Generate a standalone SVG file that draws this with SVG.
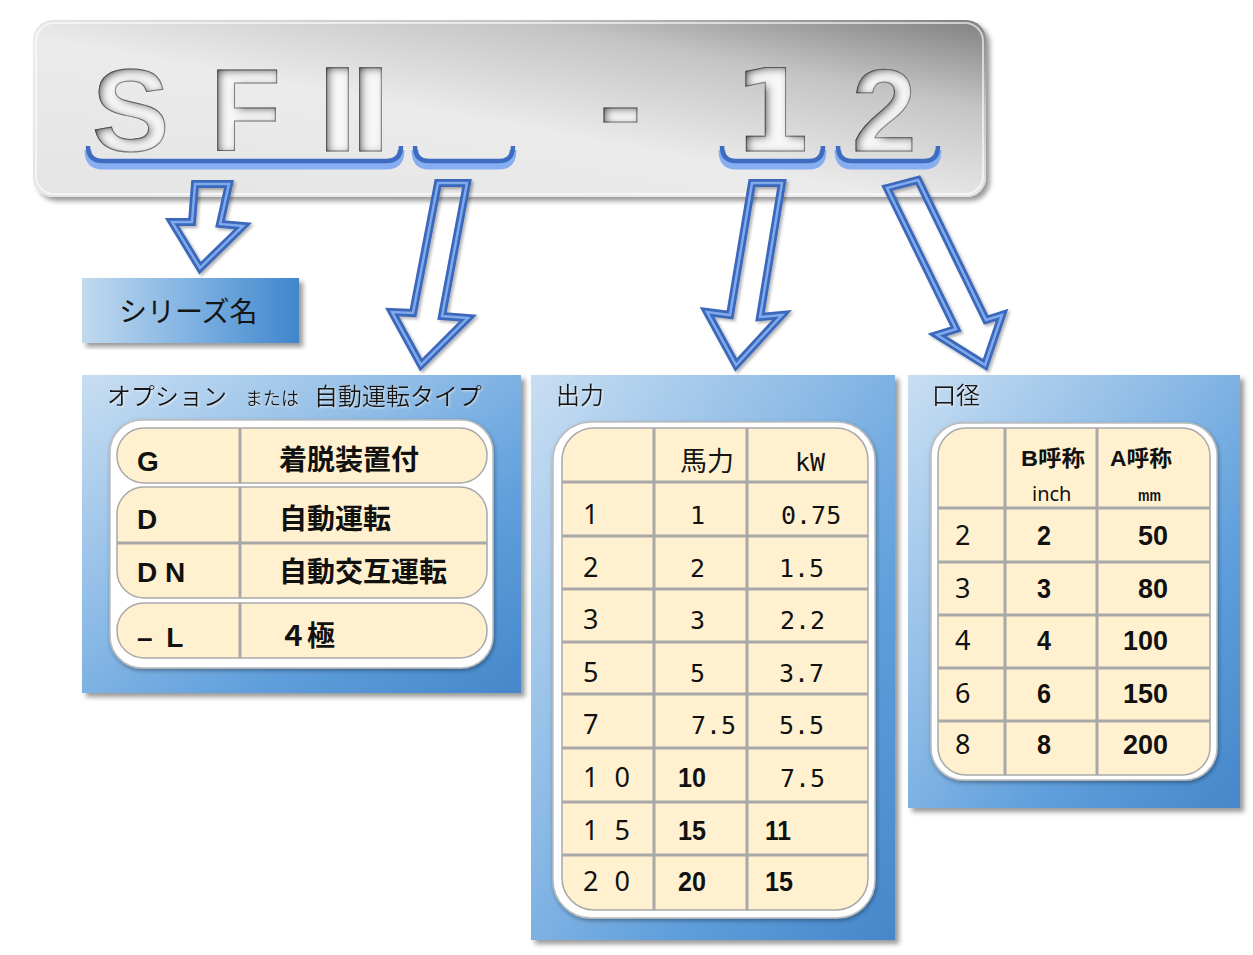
<svg xmlns="http://www.w3.org/2000/svg" width="1253" height="955" viewBox="0 0 1253 955">
<defs>
  <linearGradient id="tb" x1="0" y1="1" x2="1" y2="0">
    <stop offset="0" stop-color="#e4e4e4"/>
    <stop offset="0.45" stop-color="#ebebeb"/>
    <stop offset="0.75" stop-color="#c4c4c4"/>
    <stop offset="1" stop-color="#808080"/>
  </linearGradient>
  <linearGradient id="pg" x1="0" y1="0" x2="1" y2="1">
    <stop offset="0" stop-color="#c8def2"/>
    <stop offset="0.4" stop-color="#8dbbe6"/>
    <stop offset="0.7" stop-color="#5e9edc"/>
    <stop offset="1" stop-color="#4587c9"/>
  </linearGradient>
  <linearGradient id="sg" x1="0" y1="0" x2="1" y2="0">
    <stop offset="0" stop-color="#c2daef"/>
    <stop offset="0.5" stop-color="#7fb2e2"/>
    <stop offset="1" stop-color="#3f86cc"/>
  </linearGradient>
  <filter id="sh" x="-5%" y="-5%" width="115%" height="115%">
    <feDropShadow dx="4" dy="4" stdDeviation="2.5" flood-color="#000" flood-opacity="0.4"/>
  </filter>
  <filter id="fsh" x="-5%" y="-5%" width="110%" height="110%">
    <feDropShadow dx="1" dy="2" stdDeviation="2" flood-color="#000" flood-opacity="0.35"/>
  </filter>
  <filter id="ash" x="-20%" y="-20%" width="140%" height="140%">
    <feDropShadow dx="2" dy="2" stdDeviation="1.5" flood-color="#000" flood-opacity="0.3"/>
  </filter>
  <filter id="emb" x="-10%" y="-10%" width="120%" height="120%">
    <feGaussianBlur in="SourceAlpha" stdDeviation="4" result="b"/>
    <feOffset in="b" dx="3" dy="2" result="bo"/>
    <feComposite in="SourceAlpha" in2="bo" operator="out" result="edge"/>
    <feFlood flood-color="#202020" flood-opacity="1"/>
    <feComposite in2="edge" operator="in" result="shadow"/>
    <feMerge><feMergeNode in="SourceGraphic"/><feMergeNode in="shadow"/></feMerge>
  </filter>
  <filter id="tsh" x="-5%" y="-20%" width="110%" height="140%">
    <feDropShadow dx="1" dy="1" stdDeviation="1" flood-color="#ffffff" flood-opacity="0.6"/>
  </filter>
</defs>
<style>
  .big { font-family: "Liberation Sans", Arial, sans-serif; font-size: 116px; font-weight: bold; fill: #f8f8f8; stroke: #8a8a8a; stroke-width: 1; }
  .brU { fill: none; stroke: #86aef0; stroke-width: 7; stroke-linecap: butt; }
  .brT { fill: none; stroke: #3d6cc1; stroke-width: 4.5; stroke-linecap: butt; }
  .arO { fill: none; stroke: #3a67ba; stroke-width: 8; stroke-linejoin: miter; }
  .arI { fill: none; stroke: #80aaee; stroke-width: 2.5; stroke-linejoin: miter; }
  .panel { fill: url(#pg); filter: url(#sh); }
  .frame { fill: #ffffff; stroke: #bdbdbd; stroke-width: 1.5; filter: url(#fsh); }
  .cream { fill: #fff1cf; stroke: #a9a9a9; stroke-width: 1.5; }
  .grid { stroke: #a8a8a8; stroke-width: 3; }
  .ttl { font-family: "Noto Sans CJK JP", sans-serif; font-size: 24px; fill: #151515; }
  .jb { font-family: "Noto Sans CJK JP", sans-serif; font-size: 28px; font-weight: bold; fill: #111; }
  .lb { font-family: "Liberation Sans", Arial, sans-serif; font-size: 28px; font-weight: bold; fill: #111; }
  .num { font-family: "Noto Sans", "Liberation Sans", sans-serif; font-size: 27px; fill: #111; }
  .mono { font-family: "DejaVu Sans Mono", "Liberation Mono", monospace; font-size: 25px; fill: #111; }
  .nar { font-family: "Liberation Sans", Arial, sans-serif; font-size: 28px; font-weight: bold; fill: #111; }
  .hdr { font-family: "Liberation Sans", "Noto Sans CJK JP", sans-serif; font-size: 22px; font-weight: bold; fill: #111; }
</style>

<g id="title">
  <rect x="33" y="20" width="953" height="177" rx="20" fill="url(#tb)" filter="url(#sh)"/>
  <rect x="36" y="23" width="947" height="171" rx="18" fill="none" stroke="#ffffff" stroke-opacity="0.6" stroke-width="2"/>
  <g filter="url(#emb)">
    <text class="big" x="92" y="151">S</text>
    <text class="big" x="210" y="151">F</text>
    <text class="big" x="316" y="151" style="font-family:'DejaVu Sans','Noto Sans CJK JP',sans-serif;font-size:114px" textLength="76" lengthAdjust="spacingAndGlyphs">Ⅱ</text>
    <text class="big" x="599" y="145" textLength="43" lengthAdjust="spacingAndGlyphs">-</text>
    <text class="big" x="733" y="151" style="font-family:'DejaVu Sans',sans-serif;font-size:114px">1</text>
    <text class="big" x="852" y="151">2</text>
  </g>
  <g id="braces">
    <path class="brU" d="M88,150 Q88,166 103,166 L386,166 Q401,166 401,150"/>
    <path class="brT" d="M88,146 Q88,161 103,161 L386,161 Q401,161 401,146"/>
    <path class="brU" d="M415,150 Q415,166 429,166 L499,166 Q513,166 513,150"/>
    <path class="brT" d="M415,146 Q415,161 429,161 L499,161 Q513,161 513,146"/>
    <path class="brU" d="M722,150 Q722,166 736,166 L809,166 Q823,166 823,150"/>
    <path class="brT" d="M722,146 Q722,161 736,161 L809,161 Q823,161 823,146"/>
    <path class="brU" d="M838,150 Q838,166 852,166 L924,166 Q938,166 938,150"/>
    <path class="brT" d="M838,146 Q838,161 852,161 L924,161 Q938,161 938,146"/>
  </g>
</g>

<g id="connectors" filter="url(#ash)">
  <polygon class="arO" points="195,184 229,184 220,224 243,226 200,268 172,222 192,222"/>
  <polygon class="arI" points="195,184 229,184 220,224 243,226 200,268 172,222 192,222"/>
  <polygon class="arO" points="438,183 467,183 442,316 468,318 421,365 392,312 413,313"/>
  <polygon class="arI" points="438,183 467,183 442,316 468,318 421,365 392,312 413,313"/>
  <polygon class="arO" points="752,183 782,183 760,317 782,315 736,365 707,312 730,315"/>
  <polygon class="arI" points="752,183 782,183 760,317 782,315 736,365 707,312 730,315"/>
  <polygon class="arO" points="887,188 918,180 986,320 1002,315 985,365 937,335 956,329"/>
  <polygon class="arI" points="887,188 918,180 986,320 1002,315 985,365 937,335 956,329"/>
</g>

<g id="series">
  <rect x="82" y="278" width="217" height="65" fill="url(#sg)" filter="url(#sh)"/>
  <text class="ttl" x="119" y="322" style="font-size:28px">シリーズ名</text>
</g>

<g id="option">
  <rect class="panel" x="82" y="375" width="439" height="318"/>
  <text class="ttl" x="107" y="405" filter="url(#tsh)">オプション<tspan x="245" style="font-size:18px">または</tspan><tspan x="314">自動運転タイプ</tspan></text>
  <rect class="frame" x="110" y="420" width="383" height="248" rx="32"/>
  <rect class="cream" x="117" y="428" width="370" height="55" rx="27"/>
  <rect class="cream" x="117" y="487" width="370" height="111" rx="27"/>
  <rect class="cream" x="117" y="603" width="370" height="55" rx="27"/>
  <line class="grid" x1="117" y1="543" x2="487" y2="543"/>
  <line class="grid" x1="240" y1="428" x2="240" y2="483"/>
  <line class="grid" x1="240" y1="487" x2="240" y2="598"/>
  <line class="grid" x1="240" y1="603" x2="240" y2="658"/>
  <text class="lb" x="137" y="471">G</text>
  <text class="jb" x="279" y="470">着脱装置付</text>
  <text class="lb" x="137" y="529">D</text>
  <text class="jb" x="279" y="529">自動運転</text>
  <text class="lb" x="137" y="582">D N</text>
  <text class="jb" x="279" y="582">自動交互運転</text>
  <text class="lb" x="137" y="647" word-spacing="6">– L</text>
  <text class="jb" x="279" y="646">４極</text>
</g>

<g id="output">
  <rect class="panel" x="531" y="375" width="364" height="565"/>
  <text class="ttl" x="556" y="404" filter="url(#tsh)">出力</text>
  <rect class="frame" x="553" y="422" width="322" height="496" rx="38"/>
  <rect class="cream" x="562" y="428" width="306" height="482" rx="32"/>
  <g>
    <line class="grid" x1="654" y1="428" x2="654" y2="910"/>
    <line class="grid" x1="747" y1="428" x2="747" y2="910"/>
    <line class="grid" x1="562" y1="482" x2="868" y2="482"/>
    <line class="grid" x1="562" y1="536" x2="868" y2="536"/>
    <line class="grid" x1="562" y1="589" x2="868" y2="589"/>
    <line class="grid" x1="562" y1="642" x2="868" y2="642"/>
    <line class="grid" x1="562" y1="694" x2="868" y2="694"/>
    <line class="grid" x1="562" y1="748" x2="868" y2="748"/>
    <line class="grid" x1="562" y1="802" x2="868" y2="802"/>
    <line class="grid" x1="562" y1="855" x2="868" y2="855"/>
  </g>
  <text class="ttl" x="680" y="471" style="font-size:27px">馬力</text>
  <text class="mono" x="795" y="471">kW</text>
  <text class="num" x="583" y="524">1</text><text class="mono" x="690" y="524">1</text><text class="mono" x="781" y="524">0.75</text>
  <text class="num" x="583" y="577">2</text><text class="mono" x="690" y="577">2</text><text class="mono" x="779" y="577">1.5</text>
  <text class="num" x="583" y="629">3</text><text class="mono" x="690" y="629">3</text><text class="mono" x="780" y="629">2.2</text>
  <text class="num" x="583" y="682">5</text><text class="mono" x="690" y="682">5</text><text class="mono" x="779" y="682">3.7</text>
  <text class="num" x="583" y="734">7</text><text class="mono" x="691" y="734">7.5</text><text class="mono" x="779" y="734">5.5</text>
  <text class="num" x="583" y="787" word-spacing="9">1 0</text><text class="nar" x="678" y="787" textLength="28" lengthAdjust="spacingAndGlyphs">10</text><text class="mono" x="780" y="787">7.5</text>
  <text class="num" x="583" y="840" word-spacing="9">1 5</text><text class="nar" x="678" y="840" textLength="28" lengthAdjust="spacingAndGlyphs">15</text><text class="nar" x="765" y="840" textLength="26" lengthAdjust="spacingAndGlyphs">11</text>
  <text class="num" x="583" y="891" word-spacing="9">2 0</text><text class="nar" x="678" y="891" textLength="28" lengthAdjust="spacingAndGlyphs">20</text><text class="nar" x="765" y="891" textLength="28" lengthAdjust="spacingAndGlyphs">15</text>
</g>

<g id="bore">
  <rect class="panel" x="908" y="375" width="332" height="433"/>
  <text class="ttl" x="932" y="404" filter="url(#tsh)">口径</text>
  <rect class="frame" x="931" y="423" width="286" height="357" rx="32"/>
  <rect class="cream" x="938" y="428" width="272" height="347" rx="28"/>
  <g>
    <line class="grid" x1="1005" y1="428" x2="1005" y2="775"/>
    <line class="grid" x1="1097" y1="428" x2="1097" y2="775"/>
    <line class="grid" x1="938" y1="508" x2="1210" y2="508"/>
    <line class="grid" x1="938" y1="562" x2="1210" y2="562"/>
    <line class="grid" x1="938" y1="615" x2="1210" y2="615"/>
    <line class="grid" x1="938" y1="668" x2="1210" y2="668"/>
    <line class="grid" x1="938" y1="721" x2="1210" y2="721"/>
  </g>
  <text class="hdr" x="1021" y="466" textLength="64" lengthAdjust="spacingAndGlyphs">B呼称</text>
  <text class="num" x="1032" y="501" style="font-size:20px">inch</text>
  <text class="hdr" x="1110" y="466" textLength="62" lengthAdjust="spacingAndGlyphs">A呼称</text>
  <text class="nar" x="1138" y="501" style="font-size:17px" textLength="23" lengthAdjust="spacingAndGlyphs">mm</text>
  <text class="num" x="955" y="545">2</text><text class="nar" x="1037" y="545" textLength="14" lengthAdjust="spacingAndGlyphs">2</text><text class="nar" x="1168" y="545" text-anchor="end" textLength="30" lengthAdjust="spacingAndGlyphs">50</text>
  <text class="num" x="955" y="598">3</text><text class="nar" x="1037" y="598" textLength="14" lengthAdjust="spacingAndGlyphs">3</text><text class="nar" x="1168" y="598" text-anchor="end" textLength="30" lengthAdjust="spacingAndGlyphs">80</text>
  <text class="num" x="955" y="650">4</text><text class="nar" x="1037" y="650" textLength="14" lengthAdjust="spacingAndGlyphs">4</text><text class="nar" x="1168" y="650" text-anchor="end" textLength="45" lengthAdjust="spacingAndGlyphs">100</text>
  <text class="num" x="955" y="703">6</text><text class="nar" x="1037" y="703" textLength="14" lengthAdjust="spacingAndGlyphs">6</text><text class="nar" x="1168" y="703" text-anchor="end" textLength="45" lengthAdjust="spacingAndGlyphs">150</text>
  <text class="num" x="955" y="754">8</text><text class="nar" x="1037" y="754" textLength="14" lengthAdjust="spacingAndGlyphs">8</text><text class="nar" x="1168" y="754" text-anchor="end" textLength="45" lengthAdjust="spacingAndGlyphs">200</text>
</g>
</svg>
